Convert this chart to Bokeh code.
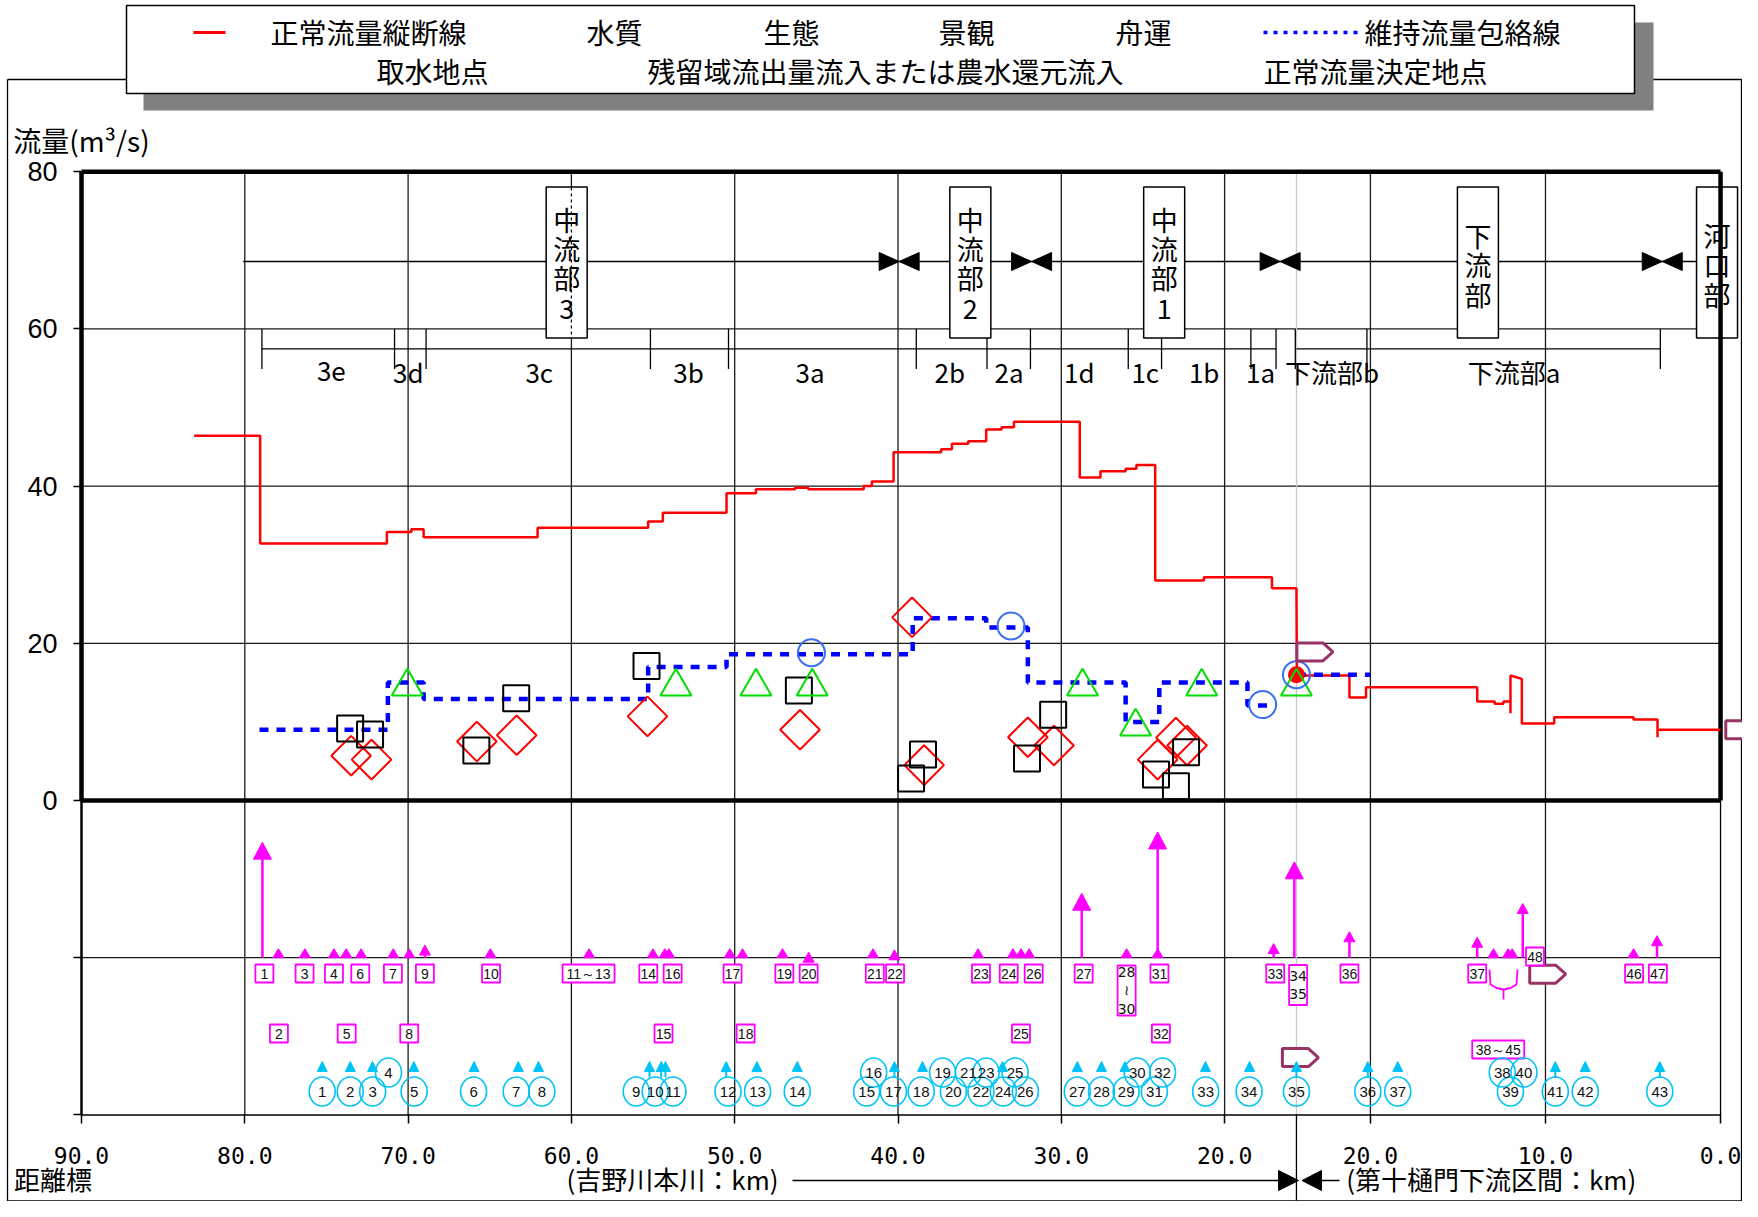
import math
from bokeh.plotting import figure
from bokeh.models import Range1d, LinearAxis, FixedTicker
from bokeh.core.properties import value
from bokeh.embed import file_html
from bokeh.resources import INLINE

# ===================== DATA =====================
# left part: 吉野川本川 km ; right part (names *_r_*): 第十樋門下流区間 km
break_km = 15.6
break_km_r = 24.2

# 正常流量縦断線 (m3/s) - left part as steps (edges / levels)
red_edges = [83.1, 79.06, 71.3, 69.8, 69.05, 62.07, 55.3, 54.4, 50.5, 48.7, 46.3, 45.5,
             42.1, 41.6, 40.27, 37.36, 36.7, 35.7, 34.6, 33.66, 32.9, 28.87, 27.6, 26.06,
             25.4, 24.25, 21.27, 17.1, 15.6]
red_levels = [46.4, 32.7, 34.15, 34.5, 33.5, 34.7, 35.5, 36.6, 39.1, 39.6, 39.8, 39.6,
              40.0, 40.6, 44.3, 44.7, 45.4, 45.7, 47.2, 47.5, 48.2, 41.1, 41.9, 42.2,
              42.7, 28.0, 28.4, 27.0]
red_r_km = [24.2, 21.2, 21.2, 20.25, 20.25, 13.9, 13.9, 12.9, 12.9, 12.4, 12.4, 12.0, 12.0,
            12.0, 11.4, 11.35, 11.35, 9.5, 9.5, 4.97, 4.97, 3.6, 3.6, 3.6, 0.0]
red_r_q = [15.9, 15.9, 13.1, 13.1, 14.4, 14.4, 12.6, 12.6, 12.3, 12.3, 12.6, 12.6, 11.1,
           15.9, 15.5, 15.5, 9.8, 9.8, 10.6, 10.6, 10.3, 10.3, 8.05, 9.0, 9.0]

# 維持流量包絡線
blue_km = [79.1, 71.24, 71.24, 69.05, 69.05, 55.3, 55.3, 50.5, 50.5, 39.1, 39.1, 34.6,
           34.6, 32.05, 32.05, 26.06, 26.06, 24.0, 24.0, 18.6, 18.6, 17.0]
blue_q = [9.0, 9.0, 15.0, 15.0, 12.9, 12.9, 17.0, 17.0, 18.6, 18.6, 23.2, 23.2,
          22.0, 22.0, 15.0, 15.0, 10.0, 10.0, 15.0, 15.0, 12.1, 12.1]
blue_r_km = [24.2, 20.0]
blue_r_q = [16.0, 16.0]

# 水質 (red diamonds)
dia_km = [73.49, 72.24, 65.79, 63.35, 55.34, 46.0, 39.14, 38.4, 32.05, 30.45, 24.1, 22.98, 22.3]
dia_q = [5.7, 5.2, 7.5, 8.3, 10.7, 9.0, 23.3, 4.5, 8.05, 7.0, 5.2, 8.0, 7.0]
# 景観 (black squares)
sq_km = [73.55, 72.33, 65.82, 63.38, 55.4, 46.07, 38.47, 39.2, 30.5, 32.1, 24.2, 22.36, 22.98]
sq_q = [9.15, 8.4, 6.36, 13.0, 17.1, 14.0, 5.85, 2.8, 10.9, 5.34, 3.3, 6.14, 1.8]
# 生態 (green triangles)
tri_km = [70.05, 53.6, 48.7, 45.25, 28.7, 25.45, 21.4, 15.6]
tri_q = [14.5, 14.5, 14.5, 14.5, 14.5, 9.4, 14.5, 14.5]
# 舟運 (blue circles)
cir_km = [45.3, 33.08, 17.67, 15.6]
cir_q = [18.8, 22.2, 12.2, 16.0]
# 正常流量決定地点
det_km = [15.6]
det_q = [16.0]

# 取水地点 (magenta arrows: position, arrow top)
arr_km = [78.92, 68.97, 45.47, 40.22, 28.75, 24.1, 17.0, 15.73]
arr_top = [-5.3, -18.4, -19.3, -19.0, -11.8, -4.0, -18.2, -7.8]
arr_big = [1, 0, 0, 0, 1, 1, 0, 1]
arr_r_km = [21.2, 13.9, 11.3, 3.63]
arr_r_top = [-16.7, -17.4, -13.1, -17.2]
mtri_km = [77.94, 76.32, 74.54, 73.79, 72.88, 70.91, 69.93, 64.96, 58.92, 55.01, 54.28,
           54.02, 50.3, 49.52, 47.07, 41.53, 35.1, 32.96, 32.46, 31.97, 26.0, 24.1]
mtri_r_km = [12.97, 12.14, 11.9, 4.97]
lab1_txt = ["1", "3", "4", "6", "7", "9", "10", "11～13", "14", "16", "17", "19", "20",
            "21", "22", "23", "24", "26", "27", "31", "33"]
lab1_km = [78.8, 76.34, 74.54, 72.93, 70.93, 68.97, 64.92, 58.95, 55.29, 53.8, 50.13, 46.96,
           45.47, 41.42, 40.18, 34.92, 33.22, 31.69, 28.63, 23.99, 16.9]
lab2_txt = ["2", "5", "8", "15", "18", "25", "32"]
lab2_km = [77.91, 73.76, 69.93, 54.36, 49.33, 32.47, 23.9]
labr_txt = ["36", "37", "46", "47"]
labr_km = [21.2, 13.9, 4.94, 3.58]
labtall_txt = ["28\n≀\n30", "34\n35"]
labtall_km = [26.0, 15.5]

# 残留域流出量流入または農水還元流入 (cyan numbered circles)
cyl_num = [1, 2, 3, 5, 6, 7, 8, 9, 10, 11, 12, 13, 14, 15, 17, 18, 20, 22, 24, 26, 27, 28,
           29, 31, 33, 34, 35]
cyl_km = [75.26, 73.54, 72.17, 69.63, 65.99, 63.38, 61.81, 56.03, 54.87, 53.78, 50.41, 48.6,
          46.17, 41.92, 40.28, 38.58, 36.61, 34.92, 33.55, 32.2, 29.02, 27.54, 26.03, 24.3,
          21.16, 18.5, 15.6]
cyl_r_num = [36, 37, 39, 41, 42, 43]
cyl_r_km = [20.15, 18.44, 12.0, 9.44, 7.73, 3.47]
cyu_num = [4, 16, 19, 21, 23, 25, 30, 32]
cyu_km = [71.2, 41.49, 37.27, 35.69, 34.6, 32.83, 25.35, 23.8]
cyu_r_num = [38, 40]
cyu_r_km = [12.47, 11.23]
cytri_km = [75.26, 73.54, 72.18, 69.65, 65.96, 63.25, 62.02, 55.22, 54.5, 54.24, 50.52,
            48.64, 46.17, 40.22, 38.5, 33.6, 29.02, 27.54, 26.1, 21.17, 18.47, 15.6]
cytri_r_km = [20.15, 18.44, 9.44, 7.73, 3.47]
cystem_km = [55.22, 54.5, 54.24, 50.52, 40.22, 15.6]
cystem_r_km = [20.15, 9.44, 3.47]

# section names
major_txt = ["中流部3", "中流部2", "中流部1"]
major_km = [60.29, 35.57, 23.7]
major_r_txt = ["下流部", "河口部"]
major_r_km = [13.86, 0.2]
major_bounds = [39.93, 31.82, 16.6]
major_bounds_r = [3.33]
sub_ticks = [78.95, 70.83, 68.9, 55.16, 50.38, 38.88, 34.55, 31.89, 25.9, 23.86, 18.39, 16.85, 15.67]
sub_ticks_r = [20.2, 3.44]
sub_txt = ["3e", "3d", "3c", "3b", "3a", "2b", "2a", "1d", "1c", "1b", "1a"]
sub_km = [74.7, 69.99, 61.97, 52.83, 45.38, 36.83, 33.2, 28.9, 24.86, 21.25, 17.8]
sub_r_txt = ["下流部b", "下流部a"]
sub_r_km = [22.2, 11.8]

# tick labels
yticks = [0, 20, 40, 60, 80]
xticks_left = [90, 80, 70, 60, 50, 40, 30, 20]
xticks_right = [20, 10, 0]

# pentagon arrows (left-edge anchor)
pent_r_km = [24.2, -0.3, 10.9]
pent_r_q = [18.9, 9.0, -22.1]
pent_km = [16.46]
pent_q = [-32.7]

# ===================== GEOMETRY =====================
PXK, PXQ = 16.33, 7.86          # px per km, px per m3/s
X90, Y0 = 81.0, 800.0           # picture px of 90 km and of 0 m3/s
FIG_W, FIG_H, M = 1742, 1201, 0
R0, RS = -10.37, 1.072          # right part: axis position of 0 km', axis units per km'


def rk(k):
    return round(R0 + RS * k, 4)


def rks(ks):
    return [rk(k) for k in ks]


def px(X):
    return 90.0 - (X - X90) / PXK


def py(Y):
    return (Y0 - Y) / PXQ


def dx(n):
    return n / PXK


def dy(n):
    return n / PXQ


XR = rk(0)   # right border of plot
MAG = "#FF00FF"
CYAN = "#00C4F5"
GRID = "#1a1a1a"
JP = "Noto Sans CJK JP"

p = figure(width=FIG_W, height=FIG_H,
           x_range=Range1d(px(M), px(M + FIG_W)), y_range=Range1d(py(M + FIG_H), py(M)),
           x_axis_type=None, y_axis_type=None, toolbar_location=None, tools="",
           output_backend="svg", min_border=0)
p.outline_line_color = None
p.background_fill_color = "white"
p.border_fill_color = "white"


def seg(xs, ys, color="black", width=1.3, dash="solid"):
    p.line(xs, ys, line_color=color, line_width=width, line_dash=dash)


def txt(x, y, s, size, font=JP, align="left", baseline="middle", color="black"):
    p.text(x=[x], y=[y], text=[s], text_font=value(font), text_font_size=f"{size}px",
           text_align=align, text_baseline=baseline, text_color=color)


# ---------- outer frame ----------
FX0, FX1, FY0, FY1 = px(7), px(1741), py(79), py(1200.3)
seg([FX0, FX1, FX1, FX0, FX0], [FY0, FY0, FY1, FY1, FY0], width=1.3)

# ---------- legend ----------
p.quad(left=[px(143)], right=[px(1653)], top=[py(22)], bottom=[py(110)],
       fill_color="#808080", line_color=None)
p.quad(left=[px(126)], right=[px(1634)], top=[py(5)], bottom=[py(93)],
       fill_color="white", line_color="black", line_width=1.5)
seg([px(193), px(225)], [py(32), py(32)], color="#FF0000", width=3)
seg([px(1263), px(1360)], [py(32), py(32)], color="#0000FF", width=3.5, dash="4 6")
for s, X in [("正常流量縦断線", 270), ("水質", 586), ("生態", 763), ("景観", 938),
             ("舟運", 1115), ("維持流量包絡線", 1364)]:
    txt(px(X), py(31), s, 28)
for s, X in [("取水地点", 376), ("残留域流出量流入または農水還元流入", 647), ("正常流量決定地点", 1263)]:
    txt(px(X), py(70), s, 28)

# y title
txt(px(12.7), py(139), "流量(m³/s)", 28)

# ---------- grid ----------
vx = xticks_left[1:] + rks(xticks_right[:-1])
p.multi_line(xs=[[x, x] for x in vx], ys=[[-40, 80] for _ in vx], line_color=GRID, line_width=1.3)
hy = [60, 40, 20, -20]
p.multi_line(xs=[[90, XR] for _ in hy], ys=[[y, y] for y in hy], line_color=GRID, line_width=1.3)
seg([break_km, break_km], [-40, 80], color="#C8C8C8", width=1.3)
seg([break_km, break_km], [-40, py(1200)], color="black", width=1.3)

# ---------- section header ----------
HY = py(261)
seg([80.1, XR], [HY, HY], width=1.5)
bx, by = [], []
for xb in major_bounds + rks(major_bounds_r):
    bx.append([xb + dx(20), xb + dx(20), xb]); by.append([HY + dy(9), HY - dy(9), HY])
    bx.append([xb - dx(20), xb - dx(20), xb]); by.append([HY + dy(9), HY - dy(9), HY])
p.patches(bx, by, fill_color="black", line_color="black")
BY = py(348.3)
seg([sub_ticks[0], sub_ticks[-2]], [BY, BY], width=1.3)
seg([break_km, rk(sub_ticks_r[-1])], [BY, BY], width=1.3)
st = sub_ticks + rks(sub_ticks_r)
p.multi_line(xs=[[x, x] for x in st], ys=[[60, py(368.5)] for _ in st], line_color="black", line_width=1.3)
p.text(x=sub_km, y=[py(371)] * len(sub_km), text=sub_txt, text_font=value(JP),
       text_font_size="26px", text_align="center", text_baseline="middle")
p.text(x=rks(sub_r_km), y=[py(371)] * len(sub_r_km), text=sub_r_txt, text_font=value(JP),
       text_font_size="26px", text_align="center", text_baseline="middle")

box_x = major_km + rks(major_r_km)
box_t = major_txt + major_r_txt
p.rect(x=box_x, y=[py(262)] * len(box_x), width=41, height=151, width_units="screen",
       height_units="screen", fill_color="white", line_color="black", line_width=1.5)
seg([60, 60], [py(187), py(337)], color="black", width=1.2, dash="3 3")
cx, cy, ct = [], [], []
for xc, name in zip(box_x, box_t):
    ys = [219, 248, 277, 308] if len(name) == 4 else [235, 264, 294]
    for ch, Y in zip(name, ys):
        cx.append(xc); cy.append(py(Y)); ct.append(ch)
p.text(x=cx, y=cy, text=ct, text_font=value(JP), text_font_size="27px",
       text_align="center", text_baseline="middle")

# ---------- plot box ----------
seg([90, XR], [80, 80], width=4.5)
seg([90, XR], [0, 0], width=4.5)
seg([90, 90], [0, 80], width=4.5)
seg([XR, XR], [0, 80], width=4.5)
seg([90, 90], [-40, 0], width=2.5)
seg([XR, XR], [-40, 0], width=1.3)
seg([90, XR], [-40, -40], width=1.5)

# ---------- main series ----------
red_x, red_y = [], []
for i, lev in enumerate(red_levels):
    red_x += [red_edges[i], red_edges[i + 1]]
    red_y += [lev, lev]
red_x += rks(red_r_km)
red_y += red_r_q
p.line(red_x, red_y, line_color="#FF0000", line_width=2.5)
p.line(blue_km, blue_q, line_color="#0000FF", line_width=4.5, line_dash="9 8")
p.line(rks(blue_r_km), blue_r_q, line_color="#0000FF", line_width=4.5, line_dash="9 8")

p.scatter(dia_km, dia_q, marker="square", angle=math.pi / 4, size=28, line_color="#FF0000",
          line_width=2, fill_color=None)
p.scatter(sq_km, sq_q, marker="square", size=26, line_color="black", line_width=2, fill_color=None)
p.scatter(det_km, det_q, marker="circle", size=17, fill_color="#FF0000", line_color=None)
p.scatter(tri_km, tri_q, marker="triangle", size=31, line_color="#00DD00", line_width=2, fill_color=None)
p.scatter(cir_km, cir_q, marker="circle", size=27, line_color="#3A6FF0", line_width=2, fill_color=None)

# pentagon arrows
pxs, pys = [], []
for x0, y0 in list(zip(rks(pent_r_km), pent_r_q)) + list(zip(pent_km, pent_q)):
    pxs.append([x0, x0 - dx(26), x0 - dx(36), x0 - dx(26), x0])
    pys.append([y0 + dy(9), y0 + dy(9), y0, y0 - dy(9), y0 - dy(9)])
p.patches(pxs, pys, fill_color="white", line_color="#993366", line_width=3)

# ---------- 取水地点 (magenta) ----------
BASE = -20
ax_all = arr_km + rks(arr_r_km)
at_all = arr_top + arr_r_top
ab_all = arr_big + [0] * len(arr_r_km)
hx, hyy, sx, sy = [], [], [], []
for x, top, big in zip(ax_all, at_all, ab_all):
    w, h = (18, 17) if big else (11, 10)
    hx.append([x + dx(w / 2), x - dx(w / 2), x]); hyy.append([top - dy(h), top - dy(h), top])
    sx.append([x, x]); sy.append([BASE, top - dy(h)])
for x in mtri_km + rks(mtri_r_km):
    hx.append([x + dx(5.5), x - dx(5.5), x]); hyy.append([BASE, BASE, BASE + dy(9)])
p.multi_line(sx, sy, line_color=MAG, line_width=2.5)
p.patches(hx, hyy, fill_color=MAG, line_color=MAG)

# brace under 37 / 38~45
bcx = px(1503)
brx = [[px(1489), px(1490), px(1496), bcx, bcx], [px(1517), px(1516), px(1510), bcx]]
bry = [[py(969), py(984), py(987.5), py(989), py(999)], [py(969), py(984), py(987.5), py(989)]]
p.multi_line(brx, bry, line_color=MAG, line_width=1.8)


def boxes(xs, ys, texts, ws, hs, font="Liberation Sans"):
    p.rect(x=xs, y=ys, width=ws, height=hs, width_units="screen", height_units="screen",
           fill_color="white", line_color=MAG, line_width=1.8)
    p.text(x=xs, y=ys, text=texts, text_font=value(font), text_font_size="14px",
           text_align="center", text_baseline="middle", text_color="#111", text_line_height=1.15)


R1, R2 = py(973), py(1033)
b1x = lab1_km + rks(labr_km)
b1t = lab1_txt + labr_txt
boxes(b1x, [R1] * len(b1x), b1t, [52 if "～" in t else 18 for t in b1t], [18] * len(b1x))
boxes(lab2_km, [R2] * len(lab2_km), lab2_txt, [18] * len(lab2_km), [18] * len(lab2_km))
boxes(labtall_km, [py(990), py(984.5)], labtall_txt, [18, 18], [50, 40], font="DejaVu Sans")
boxes([rk(10.6)], [py(956)], ["48"], [18], [18])
boxes([rk(12.7)], [py(1049)], ["38～45"], [52], [18])

# ---------- cyan circles ----------
YT, YU, YL = py(1066), py(1072), py(1091)
ctx = cytri_km + rks(cytri_r_km)
p.patches([[x + dx(5), x - dx(5), x] for x in ctx],
          [[YT - dy(5), YT - dy(5), YT + dy(5)] for _ in ctx], fill_color=CYAN, line_color=CYAN)
csx = cystem_km + rks(cystem_r_km)
p.multi_line([[x, x] for x in csx], [[YT - dy(5), py(1077)] for _ in csx], line_color=CYAN, line_width=2)
cxl = cyl_km + rks(cyl_r_km)
cnl = [str(n) for n in cyl_num + cyl_r_num]
cxu = cyu_km + rks(cyu_r_km)
cnu = [str(n) for n in cyu_num + cyu_r_num]
for xs, yv, ns in [(cxl, YL, cnl), (cxu, YU, cnu)]:
    p.ellipse(x=xs, y=[yv] * len(xs), width=26, height=29, width_units="screen",
              height_units="screen", fill_color=None, line_color=CYAN, line_width=1.6)
    p.text(x=xs, y=[yv] * len(xs), text=ns, text_font=value("Liberation Sans"),
           text_font_size="15px", text_align="center", text_baseline="middle", text_color="#111")

# ---------- axes ----------
yax = LinearAxis(fixed_location=90, ticker=FixedTicker(ticks=[-40, -20] + yticks),
                 major_label_overrides={-40: "", -20: ""})
yax.axis_line_color = None
yax.major_tick_in = 0
yax.major_tick_out = 8
yax.major_tick_line_width = 1.5
yax.minor_tick_line_color = None
yax.major_label_standoff = 16
yax.major_label_text_font = "Liberation Sans"
yax.major_label_text_font_size = "27px"
yax.major_label_text_color = "black"
p.add_layout(yax, "left")

xt = [float(v) for v in xticks_left] + rks(xticks_right)
xlab = {}
for v in xticks_left:
    xlab[float(v)] = f"{v:.1f}"
for v in xticks_right:
    xlab[rk(v)] = f"{v:.1f}"
xax = LinearAxis(fixed_location=-40, ticker=FixedTicker(ticks=xt), major_label_overrides=xlab)
xax.axis_line_color = None
xax.major_tick_in = 0
xax.major_tick_out = 9
xax.major_tick_line_width = 1.5
xax.minor_tick_line_color = None
xax.major_label_standoff = 23
xax.major_label_text_font = "DejaVu Sans Mono"
xax.major_label_text_font_size = "23px"
xax.major_label_text_color = "black"
p.add_layout(xax, "below")

# ---------- bottom captions ----------
CY = py(1178)
txt(px(13.5), CY, "距離標", 26)
txt(px(672), CY, "(吉野川本川：km)", 26, align="center")
AY = py(1180)
seg([px(792), px(1280)], [AY, AY], width=1.5)
seg([px(1320), px(1339)], [AY, AY], width=1.5)
p.patches([[px(1278), px(1278), px(1298)], [px(1321), px(1321), px(1301.5)]],
          [[AY + dy(10), AY - dy(10), AY], [AY + dy(10), AY - dy(10), AY]],
          fill_color="black", line_color="black")
txt(px(1345.7), CY, "(第十樋門下流区間：km)", 26)

open("out.html", "w").write(file_html(p, INLINE))
